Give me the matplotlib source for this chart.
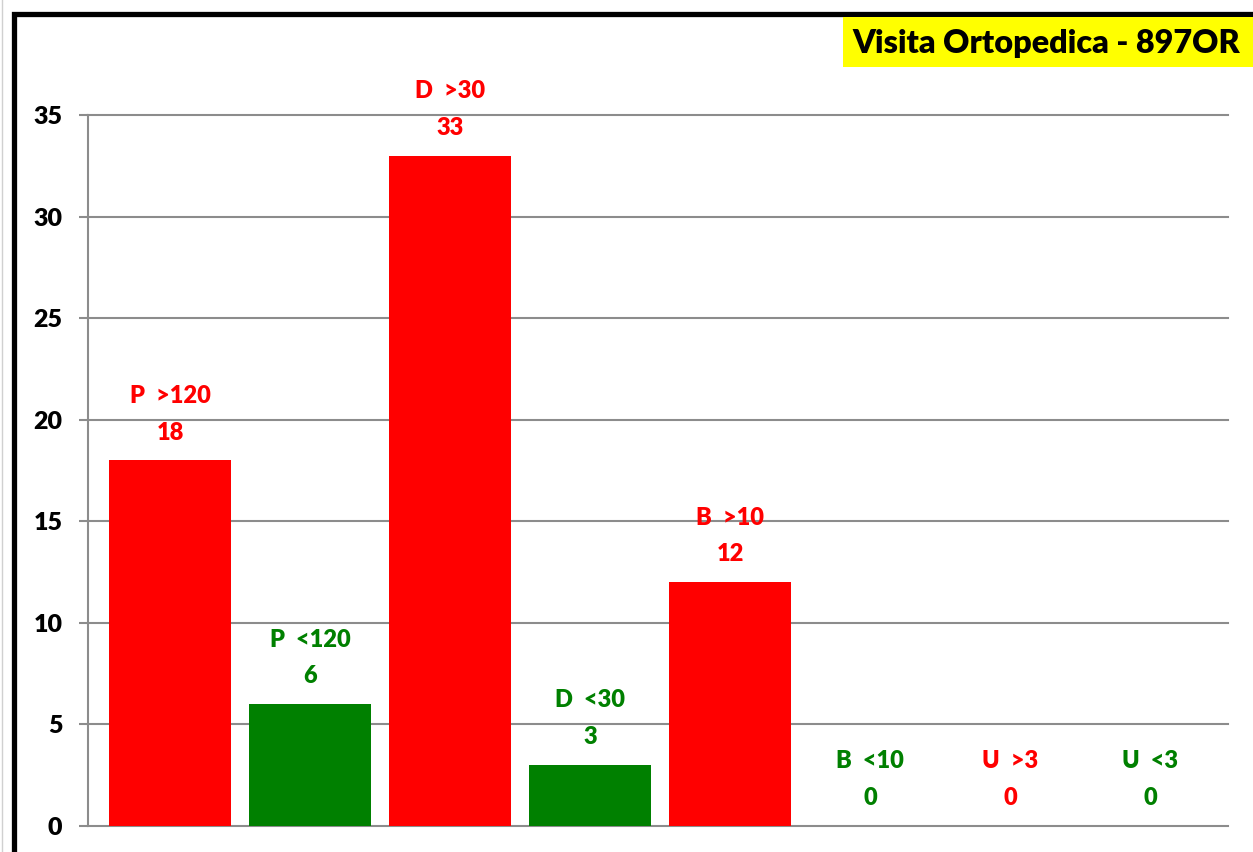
import numpy as np
import matplotlib.pyplot as plt
from matplotlib.patches import Rectangle
from matplotlib.lines import Line2D

# Data
categories = ["P  >120", "P  <120", "D  >30", "D  <30", "B  >10", "B  <10", "U  >3", "U  <3"]
values = [18, 6, 33, 3, 12, 0, 0, 0]
bar_colors = ["#FF0000", "#008000", "#FF0000", "#008000", "#FF0000", "#008000", "#FF0000", "#008000"]
yticks = [0, 5, 10, 15, 20, 25, 30, 35]
title = "Visita Ortopedica - 897OR"

W, H = 1253, 852
plt.rcParams['font.family'] = ['Lato', 'DejaVu Sans']
WEIGHT = 'heavy'

fig = plt.figure(figsize=(W / 100, H / 100), dpi=100)
ax = fig.add_axes([88 / W, 1 - 826 / H, (1228 - 88) / W, (826 - 115) / H])

x = np.arange(len(categories))
ax.bar(x, values, width=0.87, color=bar_colors, zorder=3)

# labels above bars: category on top, value below
for xi, v, lab, c in zip(x, values, categories, bar_colors):
    ax.annotate(str(v), (xi, v), xytext=(0, 20), textcoords='offset points',
                ha='center', va='center', color=c, fontsize=17, fontweight=WEIGHT)
    ax.annotate(lab, (xi, v), xytext=(0, 46.5), textcoords='offset points',
                ha='center', va='center', color=c, fontsize=17, fontweight=WEIGHT)

ax.set_xlim(-82 / 140, 7 + 78 / 140)
ax.set_ylim(0, 35)
ax.set_yticks(yticks)
ax.set_xticks([])
ax.yaxis.grid(True, color='#8c8c8c', linewidth=1.5)
ax.set_axisbelow(True)
for s in ['top', 'right', 'bottom']:
    ax.spines[s].set_visible(False)
ax.spines['left'].set_color('#8c8c8c')
ax.spines['left'].set_linewidth(1.5)
ax.tick_params(axis='y', direction='out', length=6.5, width=1.5, color='#8c8c8c',
               pad=12, labelsize=18)
for t in ax.get_yticklabels():
    t.set_fontweight(WEIGHT)
for gl in ax.get_ygridlines():
    gl.set_clip_on(False)

# black chart border (cropped on right/bottom)
fig.add_artist(Rectangle((14 / W, -0.1), 1.2, 1.1 - 14 / H, transform=fig.transFigure,
                         fill=False, edgecolor='black', linewidth=3.8))
# faint sheet gridline at far left
fig.add_artist(Line2D([1.5 / W, 1.5 / W], [0, 1], transform=fig.transFigure,
                      color='#d0d0d0', linewidth=1))

# yellow title box
fig.add_artist(Rectangle((843 / W, 1 - 67 / H), (W - 843) / W, 50 / H,
                         transform=fig.transFigure, facecolor='#FFFF00', edgecolor='none'))
fig.text(852 / W, 1 - 43 / H, title, ha='left', va='center', fontsize=23.3,
         fontweight=WEIGHT, color='black')

fig.savefig('out.png', dpi=100)
